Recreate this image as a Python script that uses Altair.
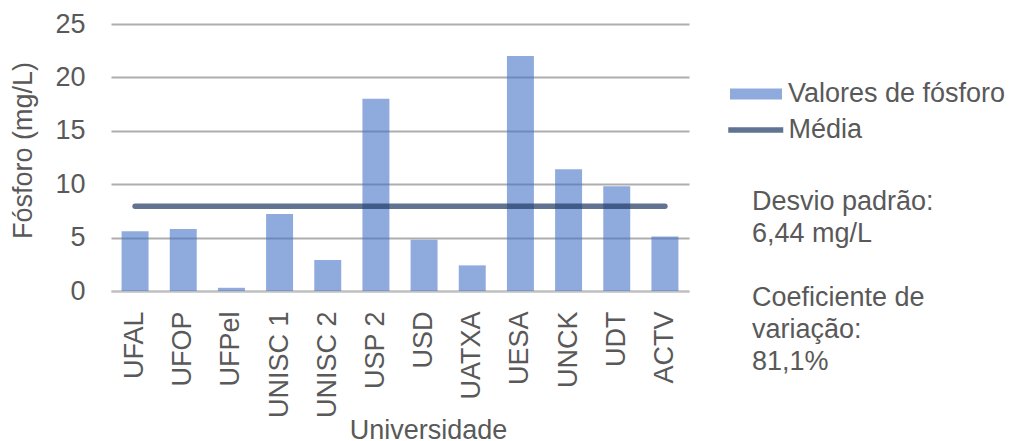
import altair as alt
import pandas as pd

# Phosphorus concentration per university (mg/L)
universidades = ["UFAL", "UFOP", "UFPel", "UNISC 1", "UNISC 2", "USP 2",
                 "USD", "UATXA", "UESA", "UNCK", "UDT", "ACTV"]
fosforo = [5.6, 5.8, 0.3, 7.2, 2.9, 18.0, 4.8, 2.4, 22.0, 11.4, 9.8, 5.1]
y_ticks = [0, 5, 10, 15, 20, 25]
nota_desvio = ["Desvio padrão:", "6,44 mg/L"]
nota_cv = ["Coeficiente de", "variação:", "81,1%"]

media = sum(fosforo) / len(fosforo)

barras_df = pd.DataFrame({"Universidade": universidades, "Fosforo": fosforo,
                          "serie": "Valores de fósforo"})
media_df = pd.DataFrame({"Universidade": universidades,
                         "Media": [media] * len(universidades), "serie": "Média"})

FONT = "Liberation Sans"
GRAY = "#595959"
FS = 27

x_enc = alt.X(
    "Universidade:N", sort=universidades,
    scale=alt.Scale(paddingInner=0.44, paddingOuter=0.22),
    axis=alt.Axis(
        title="Universidade", labelAngle=-90, labelPadding=20,
        labelFontSize=FS, labelColor=GRAY, labelFont=FONT,
        ticks=False, domainColor="#BFBFBF", domainWidth=2,
        titleFontSize=FS, titleColor=GRAY, titleFont=FONT, titleFontWeight="normal",
        titleX=317, titleY=147, titleAlign="center", titleBaseline="alphabetic",
    ),
)

y_scale = alt.Scale(domain=[0, 25], nice=False)
y_axis = alt.Axis(
    title="Fósforo (mg/L)", values=y_ticks, grid=True,
    gridColor={"condition": {"test": "datum.value === 0", "value": "#BFBFBF"},
               "value": "#ADADAD"},
    gridWidth=2, domain=False, ticks=False, labelPadding=26,
    labelFontSize=FS, labelColor=GRAY, labelFont=FONT,
    titleFontSize=FS, titleColor=GRAY, titleFont=FONT, titleFontWeight="normal",
    titleX=-88, titleY=126, titleBaseline="middle", titleAlign="center", titleAngle=-90,
)

barras = alt.Chart(barras_df).mark_bar(opacity=0.6).encode(
    x=x_enc,
    y=alt.Y("Fosforo:Q", scale=y_scale, axis=y_axis),
    fill=alt.Fill(
        "serie:N",
        scale=alt.Scale(domain=["Valores de fósforo"], range=["#4472C4"]),
        legend=alt.Legend(
            title=None, orient="none", legendX=619, legendY=44,
            symbolType="M-1,-0.2115H1V0.2115H-1Z", symbolSize=2704,
            symbolOpacity=0.6, symbolStrokeWidth=0, labelOffset=6, labelLimit=0,
            labelFontSize=FS, labelColor=GRAY, labelFont=FONT,
        ),
    ),
)

linha = alt.Chart(media_df).mark_line(strokeWidth=5.5, strokeCap="round", opacity=0.7).encode(
    x=alt.X("Universidade:N", sort=universidades),
    y=alt.Y("Media:Q"),
    stroke=alt.Stroke(
        "serie:N",
        scale=alt.Scale(domain=["Média"], range=["#1F3864"]),
        legend=alt.Legend(
            title=None, orient="none", legendX=614.25, legendY=75.5,
            symbolType="stroke", symbolSize=3025, symbolStrokeWidth=5.5,
            symbolOpacity=0.7, labelOffset=2.25, labelLimit=0,
            labelFontSize=FS, labelColor=GRAY, labelFont=FONT,
        ),
    ),
)


def nota(linhas, y):
    """Multi-line annotation placed to the right of the plot."""
    return alt.Chart(pd.DataFrame({"nota": ["\n".join(linhas)]})).mark_text(
        align="left", baseline="alphabetic", lineBreak="\n", lineHeight=32,
        fontSize=FS, font=FONT, color=GRAY,
    ).encode(x=alt.value(641), y=alt.value(y), text="nota:N")


chart = alt.layer(
    barras, linha, nota(nota_desvio, 186), nota(nota_cv, 282)
).properties(
    width=578, height=267,
    padding={"left": 111, "top": 24, "right": 330, "bottom": 150},
    autosize=alt.AutoSizeParams(type="none"),
).configure(font=FONT).configure_view(stroke=None)

chart.save("out.html", embed_options={"renderer": "svg", "actions": False})
